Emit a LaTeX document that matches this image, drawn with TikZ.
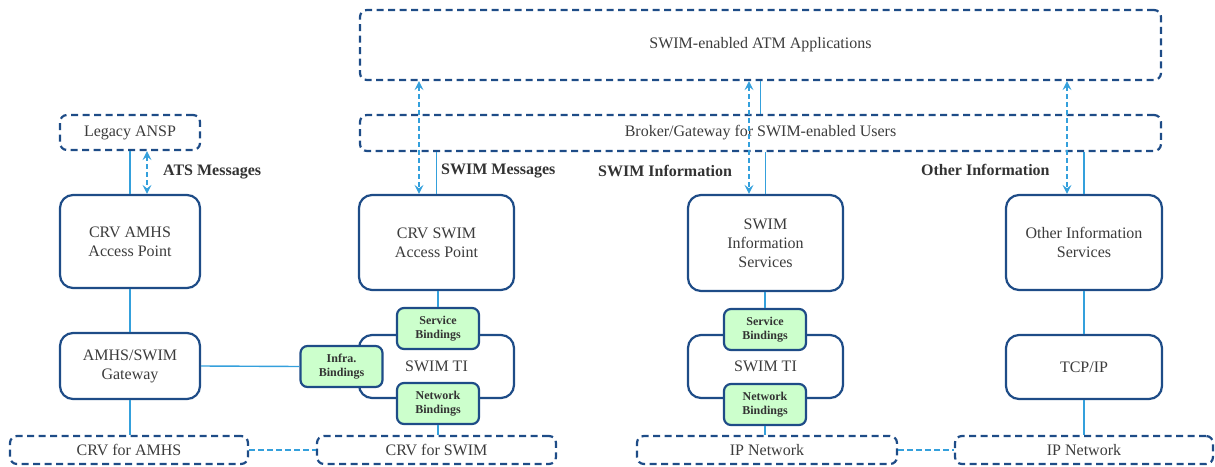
\documentclass[tikz,border=0pt]{standalone}
\usepackage{fontspec}
\setmainfont{Liberation Serif}
\usetikzlibrary{arrows.meta}
\definecolor{dblue}{RGB}{30,76,135}
\definecolor{lblue}{RGB}{52,160,220}
\definecolor{bgreen}{RGB}{204,255,204}
\definecolor{txt}{RGB}{60,60,60}
\tikzset{
  box/.style={draw=dblue, line width=2.2pt, rounded corners=13pt, fill=white, align=center,
    inner sep=0pt, text=txt, font=\fontsize{16}{19}\selectfont},
  dbox/.style={draw=dblue, line width=2.2pt, dash pattern=on 7pt off 4.5pt, rounded corners=7pt,
    align=center, inner sep=0pt, text=txt, font=\fontsize{16}{19}\selectfont},
  bind/.style={draw=dblue, line width=2.2pt, rounded corners=7pt, fill=bgreen, align=center,
    inner sep=0pt, text=black!80, font=\bfseries\fontsize{12}{14}\selectfont,
    minimum width=82pt, minimum height=41pt},
  conn/.style={draw=lblue, line width=1.4pt},
  dconn/.style={draw=lblue, line width=1.4pt, dash pattern=on 6pt off 3pt},
  darr/.style={draw=lblue, line width=1.4pt, dash pattern=on 5pt off 3pt,
    {Stealth[length=9pt,width=9pt,inset=3.5pt]}-{Stealth[length=9pt,width=9pt,inset=3.5pt]}},
  lab/.style={anchor=west, inner sep=0pt, text=black!80, font=\bfseries\fontsize{16}{19}\selectfont}
}
\begin{document}
\begin{tikzpicture}[x=1pt,y=-1pt]
\useasboundingbox (0,0) rectangle (1215,466);
% top
\node[dbox, minimum width=801pt, minimum height=70pt] (apps) at (760.5,45) {SWIM-enabled ATM Applications};
\node[dbox, minimum width=801pt, minimum height=36pt] (broker) at (760.5,133) {Broker/Gateway for SWIM-enabled Users};
% column 1
\node[dbox, minimum width=140pt, minimum height=35pt] (legacy) at (130,132.5) {Legacy ANSP};
\node[box, minimum width=140pt, minimum height=93pt] (crvap) at (130,241.5) {CRV AMHS\\Access Point};
\node[box, minimum width=140pt, minimum height=66pt] (gw) at (130,366) {AMHS/SWIM\\Gateway};
\node[dbox, minimum width=238pt, minimum height=28pt] (crvamhs) at (129,450) {CRV for AMHS};
% column 2
\node[box, minimum width=155pt, minimum height=95pt] (swimap) at (436.5,242.5) {CRV SWIM\\Access Point};
\node[box, minimum width=155pt, minimum height=63pt] (ti1) at (436.5,366.5) {SWIM TI};
\node[bind] (sb1) at (438,328.5) {Service\\Bindings};
\node[bind] (nb1) at (438,403.5) {Network\\Bindings};
\node[bind] (infra) at (341.5,366.5) {Infra.\\Bindings};
\node[dbox, minimum width=239pt, minimum height=28pt] (crvswim) at (436.5,450) {CRV for SWIM};
% column 3
\node[box, minimum width=155pt, minimum height=96pt] (sis) at (765.5,243) {SWIM\\Information\\Services};
\node[box, minimum width=155pt, minimum height=63pt] (ti2) at (765.5,366.5) {SWIM TI};
\node[bind] (sb2) at (765,329.5) {Service\\Bindings};
\node[bind] (nb2) at (765,404.5) {Network\\Bindings};
\node[dbox, minimum width=260pt, minimum height=28pt] (ip1) at (767,450) {IP Network};
% column 4
\node[box, minimum width=156pt, minimum height=95pt] (ois) at (1084,242.5) {Other Information\\Services};
\node[box, minimum width=156pt, minimum height=64pt] (tcp) at (1084,367) {TCP/IP};
\node[dbox, minimum width=258pt, minimum height=28pt] (ip2) at (1084,450) {IP Network};
% labels
\node[lab] (lats) at (163,172) {ATS Messages};
\node[lab] (lsm) at (441,171) {SWIM Messages};
\node[lab] (lsi) at (598,171) {SWIM Information};
\node[lab] (loi) at (921,170) {Other Information};
% solid connectors
\draw[conn] (legacy.south) -- (crvap.north);
\draw[conn] (crvap.south) -- (gw.north);
\draw[conn] (gw.south) -- (crvamhs.north -| gw.south);
\draw[conn] (gw.east) -- (infra.west);
\draw[conn] (apps.south) -- (broker.north);
\draw[conn] (broker.south -| swimap.north) -- (swimap.north);
\draw[conn] (swimap.south -| sb1.north) -- (sb1.north);
\draw[conn] (nb1.south) -- (crvswim.north -| nb1.south);
\draw[conn] (broker.south -| sis.north) -- (sis.north);
\draw[conn] (sis.south -| sb2.north) -- (sb2.north);
\draw[conn] (nb2.south) -- (ip1.north -| nb2.south);
\draw[conn] (broker.south -| ois.north) -- (ois.north);
\draw[conn] (ois.south) -- (tcp.north);
\draw[conn] (tcp.south) -- (ip2.north);
% dashed connectors
\draw[dconn] (crvamhs.east) -- (crvswim.west);
\draw[dconn] (ip1.east) -- (ip2.west);
% dashed arrows
\coordinate (a0) at ([xshift=17pt]crvap.north);
\coordinate (a1) at ([xshift=-17.5pt]swimap.north);
\coordinate (a2) at ([xshift=-16.5pt]sis.north);
\coordinate (a3) at ([xshift=-17pt]ois.north);
\draw[darr] (legacy.south -| a0) -- (a0);
\draw[darr] (apps.south -| a1) -- (a1);
\draw[darr] (apps.south -| a2) -- (a2);
\draw[darr] (apps.south -| a3) -- (a3);
\end{tikzpicture}
\end{document}
